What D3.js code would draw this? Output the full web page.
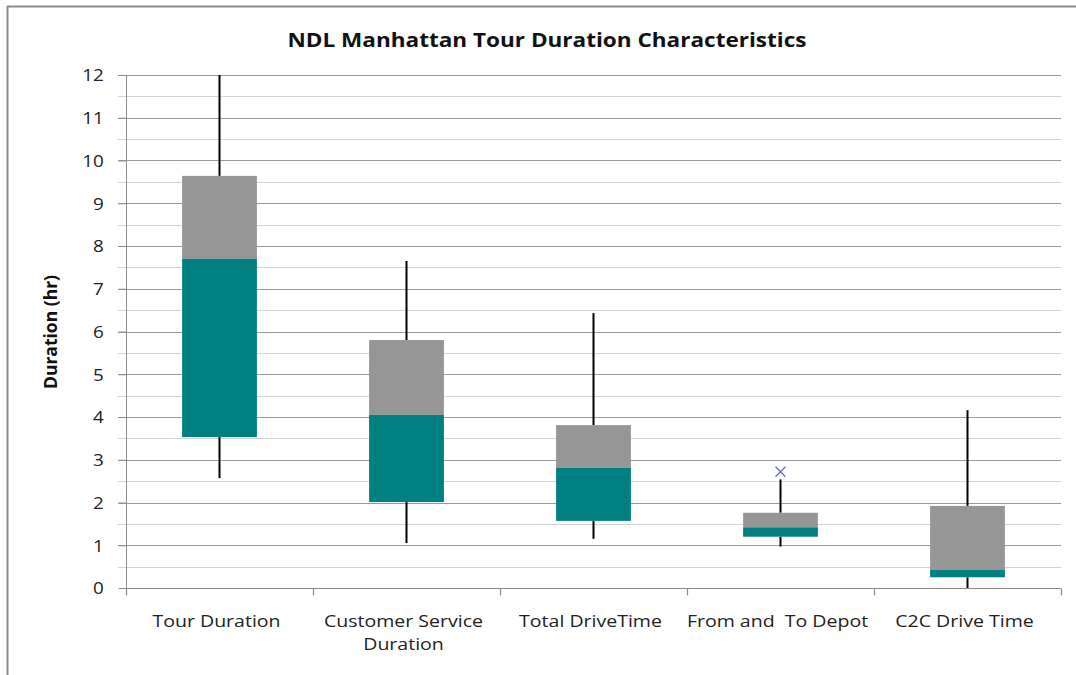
<!DOCTYPE html>
<html><head><meta charset="utf-8">
<script src="https://cdn.jsdelivr.net/npm/d3@7"></script>
<style>body{margin:0;background:#fff;}svg{display:block;}</style>
</head><body>
<svg id="c" width="1076" height="675"></svg>
<script>
const categories = ["Tour Duration", "Customer Service Duration", "Total DriveTime", "From and  To Depot", "C2C Drive Time"];
const labelLines = [["Tour Duration"], ["Customer Service", "Duration"], ["Total DriveTime"], ["From and\u00a0 To Depot"], ["C2C Drive Time"]];
const whiskerLow = [2.57, 1.05, 1.15, 0.97, 0.0];
const q1 = [3.53, 2.01, 1.57, 1.20, 0.25];
const median = [7.70, 4.05, 2.81, 1.42, 0.42];
const q3 = [9.64, 5.80, 3.81, 1.76, 1.92];
const whiskerHigh = [12.0, 7.65, 6.43, 2.54, 4.16];
const outliers = [{cat: "From and  To Depot", value: 2.72}];
const yTicks = [0,1,2,3,4,5,6,7,8,9,10,11,12];

const svg = d3.select("#c");
const m = {left:126, right:1061, top:75, bottom:588};
const font = "'Open Sans', 'Liberation Sans', sans-serif";

// chart frame (top and left edges visible)
svg.append("line").attr("x1",7).attr("x2",1076).attr("y1",6.5).attr("y2",6.5).attr("stroke","#8c8c8c").attr("stroke-width",2);
svg.append("line").attr("x1",7.5).attr("x2",7.5).attr("y1",6).attr("y2",675).attr("stroke","#8c8c8c").attr("stroke-width",2);

const x = d3.scaleBand().domain(categories).range([m.left, m.right]).paddingInner(0).paddingOuter(0);
const y = d3.scaleLinear().domain([0,12]).range([m.bottom, m.top]);

// gridlines: minor (halves) and major
const minor = d3.range(0.5, 12, 1);
svg.append("g").selectAll("line").data(minor).join("line")
  .attr("x1", m.left-8).attr("x2", m.right)
  .attr("y1", d=>Math.round(y(d))+0.5).attr("y2", d=>Math.round(y(d))+0.5)
  .attr("stroke","#d4d4d4").attr("stroke-width",1.2);
svg.append("g").selectAll("line").data(yTicks.filter(d=>d>0)).join("line")
  .attr("x1", m.left-8).attr("x2", m.right)
  .attr("y1", d=>Math.round(y(d))+0.5).attr("y2", d=>Math.round(y(d))+0.5)
  .attr("stroke","#9a9a9a").attr("stroke-width",1.2);

// y axis
const yAxis = svg.append("g").attr("transform",`translate(${m.left+0.5},0)`)
  .call(d3.axisLeft(y).tickValues(yTicks).tickSize(8).tickFormat(d3.format("d")));
yAxis.select(".domain").attr("stroke","#8c8c8c").attr("d", `M0,${m.top}V${m.bottom}`);
yAxis.selectAll(".tick line").attr("stroke","#8c8c8c");
yAxis.selectAll("text").attr("font-family",font).attr("font-size",16).attr("fill","#222")
  .attr("x",-19.2).attr("dy","0.36em").attr("transform","scale(1.18,1)");

// x axis
const xAxisY = Math.round(y(0))+0.5;
svg.append("line").attr("x1",m.left).attr("x2",m.right).attr("y1",xAxisY).attr("y2",xAxisY).attr("stroke","#8c8c8c").attr("stroke-width",1.2);
const bounds = categories.map(c=>x(c)).concat([x(categories[categories.length-1])+x.bandwidth()]);
svg.append("g").selectAll("line").data(bounds).join("line")
  .attr("x1",d=>Math.round(d)+0.5).attr("x2",d=>Math.round(d)+0.5)
  .attr("y1",xAxisY).attr("y2",xAxisY+7).attr("stroke","#8c8c8c").attr("stroke-width",1.2);

const lab = svg.append("g");
categories.forEach((c,i)=>{
  const cx = x(c)+x.bandwidth()/2 - 3;
  labelLines[i].forEach((s,j)=>{
    lab.append("g").attr("transform",`translate(${cx},${626.5 + j*23.3}) scale(1.15,1)`)
      .append("text").attr("x",0).attr("y",0)
      .attr("text-anchor","middle").attr("font-family",font).attr("font-size",17).attr("fill","#222")
      .text(s);
  });
});

// boxes
const bw = x.bandwidth()*0.4;
const g = svg.append("g");
categories.forEach((c,i)=>{
  const cx = x(c)+x.bandwidth()/2;
  g.append("line").attr("x1",cx).attr("x2",cx).attr("y1",y(whiskerHigh[i])).attr("y2",y(q3[i])).attr("stroke","#000").attr("stroke-width",2);
  g.append("line").attr("x1",cx).attr("x2",cx).attr("y1",y(q1[i])).attr("y2",y(whiskerLow[i])).attr("stroke","#000").attr("stroke-width",2);
  g.append("rect").attr("x",cx-bw/2).attr("width",bw).attr("y",y(q3[i])).attr("height",y(median[i])-y(q3[i])).attr("fill","#969696");
  g.append("rect").attr("x",cx-bw/2).attr("width",bw).attr("y",y(median[i])).attr("height",y(q1[i])-y(median[i])).attr("fill","#008080");
});

// outliers
outliers.forEach(o=>{
  const cx = x(o.cat)+x.bandwidth()/2, cy = y(o.value), s=5;
  g.append("path").attr("d",`M${cx-s},${cy-s}L${cx+s},${cy+s}M${cx-s},${cy+s}L${cx+s},${cy-s}`)
   .attr("stroke","#6a6ad0").attr("stroke-width",1.3).attr("fill","none");
});

// title
svg.append("g").attr("transform","translate(547,46.5) scale(1.15,1)")
  .append("text").attr("x",0).attr("y",0).attr("text-anchor","middle")
  .attr("font-family",font).attr("font-weight","bold").attr("font-size",19.6).attr("fill","#111")
  .text("NDL Manhattan Tour Duration Characteristics");

// y label
svg.append("text").attr("transform","translate(57,332) rotate(-90)").attr("text-anchor","middle")
  .attr("font-family",font).attr("font-weight","bold").attr("font-size",17.5).attr("fill","#111")
  .text("Duration (hr)");
</script>
</body></html>
